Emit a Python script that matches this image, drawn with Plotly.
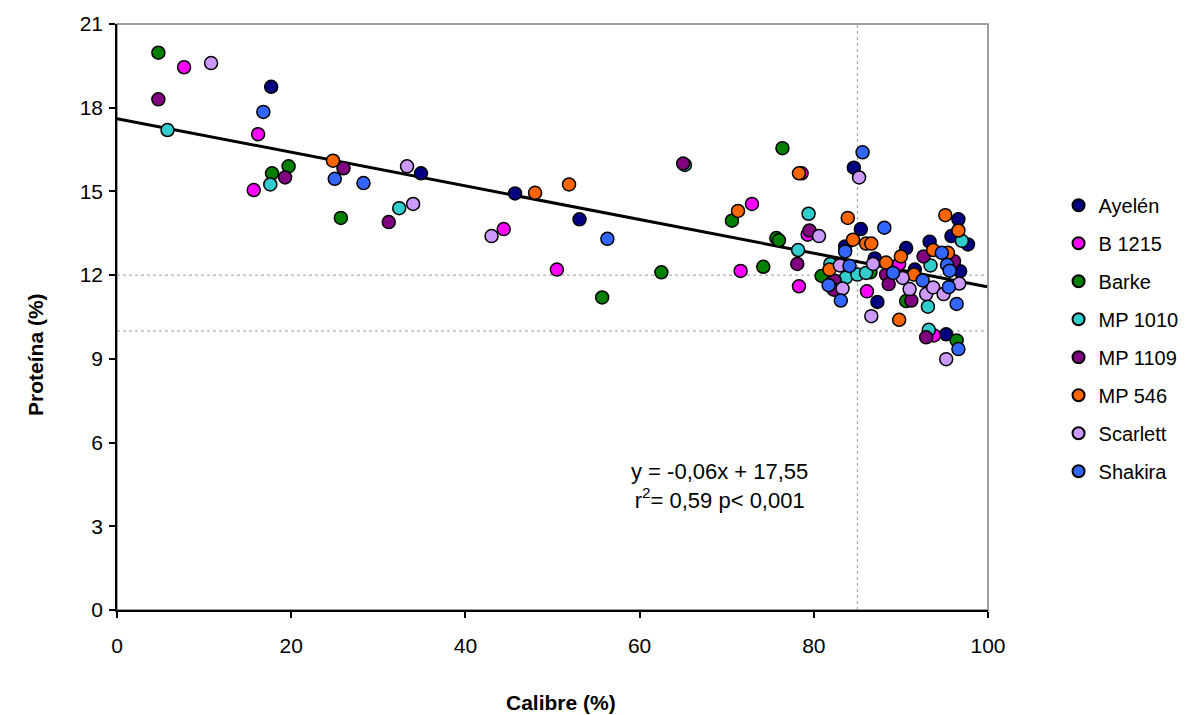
import plotly.graph_objects as go

# ---- data (Calibre %, Proteína %) ----
ayelen_x = [17.7, 34.9, 45.7, 53.1, 84.6, 85.4, 83.6, 90.6, 93.3, 96.6, 95.8, 97.7, 87.0, 91.6, 96.8, 87.3, 95.2]
ayelen_y = [18.75, 15.65, 14.93, 14.0, 15.85, 13.65, 13.03, 12.97, 13.2, 14.0, 13.4, 13.1, 12.6, 12.2, 12.14, 11.04, 9.88]

b1215_x = [7.7, 16.2, 15.7, 44.4, 50.5, 71.6, 72.9, 78.6, 79.3, 78.3, 86.1, 89.8, 93.8, 82.0]
b1215_y = [19.45, 17.05, 15.05, 13.65, 12.2, 12.15, 14.55, 15.65, 13.45, 11.6, 11.42, 12.4, 9.84, 11.8]

barke_x = [4.75, 17.8, 19.7, 25.7, 55.7, 62.5, 70.6, 75.7, 76.0, 74.2, 76.4, 80.9, 86.5, 90.6, 96.4]
barke_y = [19.97, 15.65, 15.9, 14.05, 11.2, 12.1, 13.95, 13.33, 13.25, 12.3, 16.55, 11.97, 12.1, 11.07, 9.66]

mp1010_x = [5.8, 17.6, 32.4, 65.2, 79.4, 78.2, 81.9, 83.7, 85.0, 86.0, 93.4, 97.0, 93.1, 93.2]
mp1010_y = [17.2, 15.25, 14.4, 15.95, 14.2, 12.9, 12.4, 11.92, 12.02, 12.08, 12.35, 13.23, 10.87, 10.04]

mp1109_x = [4.75, 19.3, 26.0, 31.2, 65.0, 78.1, 79.5, 82.4, 82.3, 88.3, 88.6, 91.2, 92.6, 96.1, 92.9]
mp1109_y = [18.3, 15.5, 15.83, 13.9, 16.0, 12.4, 13.6, 11.8, 11.48, 12.02, 11.68, 11.09, 12.67, 12.5, 9.77]

mp546_x = [24.8, 48.0, 51.9, 71.3, 78.3, 83.9, 84.5, 86.0, 86.6, 81.8, 88.3, 90.0, 91.5, 93.7, 95.4, 95.1, 96.6, 89.8]
mp546_y = [16.1, 14.95, 15.25, 14.3, 15.65, 14.05, 13.27, 13.13, 13.13, 12.2, 12.45, 12.67, 12.02, 12.9, 12.8, 14.15, 13.6, 10.4]

scarlett_x = [10.8, 33.3, 34.0, 43.0, 80.6, 85.2, 83.0, 83.3, 86.8, 86.6, 90.2, 91.0, 92.9, 93.7, 94.9, 96.7, 95.2]
scarlett_y = [19.6, 15.9, 14.55, 13.4, 13.4, 15.5, 12.35, 11.52, 12.4, 10.53, 11.9, 11.5, 11.32, 11.56, 11.32, 11.7, 8.99]

shakira_x = [16.8, 25.0, 28.3, 56.3, 85.6, 88.1, 83.6, 84.1, 81.7, 83.1, 89.1, 94.7, 95.3, 95.6, 92.5, 95.5, 96.4, 96.6]
shakira_y = [17.85, 15.45, 15.3, 13.3, 16.4, 13.7, 12.85, 12.33, 11.64, 11.09, 12.08, 12.8, 12.37, 12.16, 11.81, 11.57, 10.97, 9.35]

series_names = ["Ayelén", "B 1215", "Barke", "MP 1010", "MP 1109", "MP 546", "Scarlett", "Shakira"]
series_colors = ["#000080", "#FF00FF", "#008000", "#33CCCC", "#800080", "#FF6600", "#CC99FF", "#3366FF"]
series_x = [ayelen_x, b1215_x, barke_x, mp1010_x, mp1109_x, mp546_x, scarlett_x, shakira_x]
series_y = [ayelen_y, b1215_y, barke_y, mp1010_y, mp1109_y, mp546_y, scarlett_y, shakira_y]

# trend line (as drawn)
trend_slope = -0.0603
trend_intercept = 17.61
trend_x = [0, 99.9]

# reference lines
ref_y = [12, 10]
ref_x = [85]

x_ticks = [0, 20, 40, 60, 80, 100]
y_ticks = [0, 3, 6, 9, 12, 15, 18, 21]

FONT = "Liberation Sans, Arial, sans-serif"

fig = go.Figure()

fig.add_trace(go.Scatter(
    x=trend_x, y=[trend_intercept + trend_slope * v for v in trend_x],
    mode="lines", line=dict(color="black", width=3), showlegend=False, hoverinfo="skip"))

for name, color, xs, ys in zip(series_names, series_colors, series_x, series_y):
    fig.add_trace(go.Scatter(
        x=xs, y=ys, mode="markers", name=name, legendgroup=name,
        marker=dict(color=color, size=13, line=dict(color="black", width=1.5))))

shapes = []
for yv in ref_y:
    shapes.append(dict(type="line", xref="paper", yref="y", x0=0, x1=1, y0=yv, y1=yv,
                       line=dict(color="#9a9a9a", width=1, dash="dot"), layer="below"))
for xv in ref_x:
    shapes.append(dict(type="line", xref="x", yref="paper", x0=xv, x1=xv, y0=0, y1=1,
                       line=dict(color="#9a9a9a", width=1, dash="dot"), layer="below"))
shapes.append(dict(type="rect", xref="paper", yref="paper", x0=0, x1=1, y0=0, y1=1,
                   line=dict(color="#808080", width=1.5), layer="below"))

fig.update_layout(
    width=1197, height=715,
    margin=dict(l=117, r=209, t=22, b=105),
    paper_bgcolor="white", plot_bgcolor="white",
    font=dict(family=FONT, size=20, color="black"),
    shapes=shapes,
    showlegend=True,
    legend=dict(x=1.081, y=0.724, xanchor="left", yanchor="top",
                font=dict(family=FONT, size=20, color="black"),
                tracegroupgap=9, itemsizing="constant", bgcolor="rgba(0,0,0,0)"),
    annotations=[
        dict(text="y = -0,06x + 17,55<br>r<sup>2</sup>= 0,59 p&lt; 0,001", xref="x", yref="y",
             x=69.2, y=4.46, showarrow=False, align="center",
             font=dict(family=FONT, size=22, color="black")),
        dict(text="<b>Calibre (%)</b>", xref="paper", yref="paper", x=0.51, y=-0.158,
             showarrow=False, yanchor="middle", font=dict(family=FONT, size=21)),
        dict(text="<b>Proteína (%)</b>", xref="paper", yref="paper", x=-0.093, y=0.437,
             showarrow=False, textangle=-90, xanchor="center", font=dict(family=FONT, size=21)),
    ],
)

fig.update_xaxes(range=[0, 100], tickvals=x_ticks, showgrid=False, zeroline=False,
                 showline=True, linecolor="black", linewidth=1.5,
                 ticks="outside", ticklen=6, tickcolor="black", tickwidth=1.5,
                 tickfont=dict(size=21), ticklabelstandoff=10)
fig.update_yaxes(range=[0, 21], tickvals=y_ticks, showgrid=False, zeroline=False,
                 showline=True, linecolor="black", linewidth=1.5,
                 ticks="outside", ticklen=6, tickcolor="black", tickwidth=1.5,
                 tickfont=dict(size=21), ticklabelstandoff=2)

fig.write_html("out.html")
